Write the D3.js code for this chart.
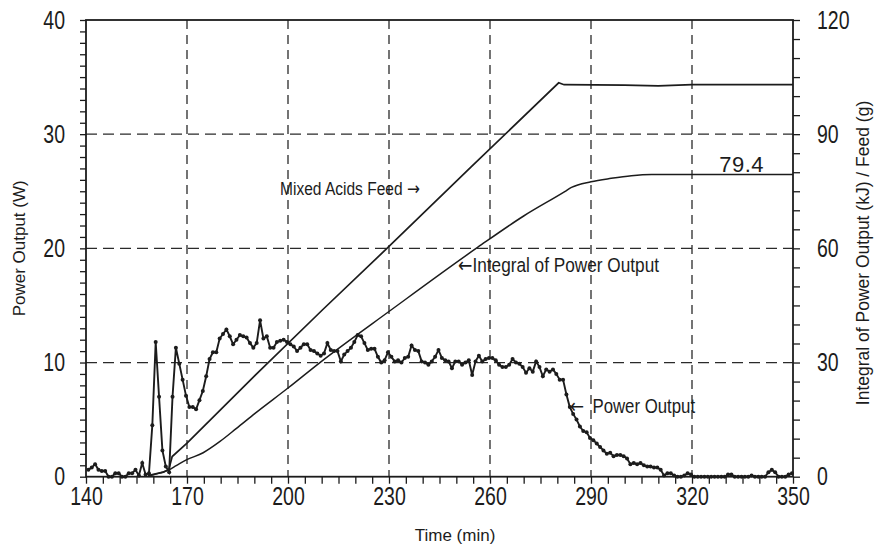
<!DOCTYPE html>
<html>
<head>
<meta charset="utf-8">
<script src="https://cdn.jsdelivr.net/npm/d3@7"></script>
<style>
  html, body { margin: 0; padding: 0; background: #fff; }
  svg { display: block; }
  .tick-label, .note, .title { font-family: 'Liberation Sans', Arial, sans-serif; fill: #1c1c1c; }
  .arrow { font-family: 'DejaVu Sans', sans-serif; }
</style>
</head>
<body>
<svg id="chart" width="875" height="546"></svg>
<script>
// Power output, sampled once a minute starting at 140.7 min (W)
const powerStart = 140.7;
const powerStep = 1;
const powerValues = [
  0.6, 0.8, 1.1, 0.6, 0.5, 0.5, 0.0, 0.0, 0.3, 0.3,
  0.0, 0.0, 0.3, 0.3, 0.6, 0.1, 1.2, 0.2, 0.3, 4.5,
  11.8, 7.0, 2.3, 0.9, 0.4, 7.0, 11.3, 9.9, 8.5, 7.1,
  6.1, 6.1, 5.9, 6.7, 7.5, 8.8, 10.3, 10.9, 10.9, 12.1,
  12.5, 12.9, 12.3, 11.6, 12.0, 12.4, 12.3, 12.2, 11.7, 11.3,
  11.7, 13.7, 12.1, 12.3, 11.3, 11.3, 11.8, 11.9, 12.0, 11.8,
  11.6, 11.4, 11.0, 11.3, 11.6, 11.6, 11.1, 11.0, 10.8, 10.6,
  10.8, 11.7, 11.1, 11.0, 11.0, 10.1, 10.7, 11.0, 11.3, 11.8,
  12.4, 12.3, 11.7, 11.1, 11.2, 11.2, 10.5, 10.0, 10.2, 10.9,
  10.5, 10.1, 10.2, 10.0, 10.4, 10.5, 11.5, 11.1, 11.0, 10.1,
  10.0, 9.8, 10.1, 10.5, 11.1, 10.4, 10.2, 10.1, 9.5, 10.1,
  10.1, 9.8, 10.0, 10.2, 8.9, 10.1, 10.6, 10.1, 10.3, 10.4,
  10.4, 10.2, 9.8, 9.6, 9.6, 9.8, 10.3, 10.0, 9.9, 9.6,
  9.1, 9.5, 9.2, 10.1, 9.6, 8.8, 9.4, 9.2, 9.4, 9.0,
  8.5, 8.5, 7.2, 6.1, 5.5, 5.0, 4.4, 4.0, 3.9, 3.4,
  3.2, 2.9, 2.6, 2.3, 2.0, 2.1, 1.8, 1.9, 1.9, 1.8,
  1.6, 1.1, 1.2, 1.1, 1.2, 1.0, 0.9, 0.9, 0.8, 0.8,
  0.6, 0.1, 0.3, 0.3, 0.1, 0.0, 0.0, 0.1, 0.3, 0.2,
  0.0, 0.0, 0.0, 0.0, 0.0, 0.0, 0.0, 0.0, 0.0, 0.0,
  0.2, 0.2, 0.0, 0.0, 0.0, 0.0, 0.0, 0.1, 0.0, 0.0,
  0.0, 0.0, 0.4, 0.6, 0.4, 0.0, 0.0, 0.0, 0.2, 0.3
];

// Cumulative mixed acids feed (g), right axis
const feedTimes  = [158.4, 161, 163, 164.6, 165.6, 170, 180, 190.3, 210.2, 230, 254.4, 280.4, 282, 300, 310, 320, 350];
const feedValues = [0.3, 0.8, 1.2, 1.9, 5.3, 8.8, 17.6, 26.7, 43.8, 60.5, 81.4, 103.5, 103.0, 102.9, 102.7, 103.0, 103.0];

// Integral of power output (kJ), right axis
const integralTimes  = [158.4, 160, 162, 164.6, 166.8, 169.8, 174.8, 179.7, 184.7, 190.3, 200, 209.2, 230.6, 256.4, 270, 282.2, 284.2, 290, 296, 302, 308, 314, 350];
const integralValues = [0.2, 0.5, 1.0, 1.8, 2.9, 4.4, 6.3, 9.2, 12.7, 16.7, 23.3, 29.8, 43.8, 60.3, 68.5, 74.9, 76.0, 77.5, 78.4, 79.1, 79.4, 79.4, 79.4];
const integralFinal = 79.4;

// Axis ticks
const xLabels = [140, 170, 200, 230, 260, 290, 320, 350];
const xGrid = [170, 200, 230, 260, 290, 320];
const yLeftLabels = [0, 10, 20, 30, 40];
const yGrid = [10, 20, 30];
const yRightLabels = [0, 30, 60, 90, 120];

const W = 875, H = 546;
const margin = { left: 86, top: 20, right: 82, bottom: 69.3 };
const x = d3.scaleLinear().domain([140, 350]).range([margin.left, W - margin.right]);
const yL = d3.scaleLinear().domain([0, 40]).range([H - margin.bottom, margin.top]);
const yR = d3.scaleLinear().domain([0, 120]).range([H - margin.bottom, margin.top]);

const svg = d3.select('#chart');
const ink = '#1c1c1c';

// Squeeze text horizontally around its anchor point (narrow plotter lettering)
function narrow(sel, sx) {
  sel.each(function () {
    const t = d3.select(this);
    const tx = +t.attr('x') || 0;
    const ty = +t.attr('y') || 0;
    t.attr('x', 0).attr('y', 0)
      .attr('transform', `translate(${tx},${ty}) scale(${sx},1)`);
  });
}

// Text with an arrow glyph before or after the words
function arrowNote(parent, px, py, size, before, words, after, gap) {
  const t = parent.append('text').attr('class', 'note')
    .attr('x', px).attr('y', py).style('font-size', size + 'px');
  if (before) t.append('tspan').attr('class', 'arrow').text(before);
  t.append('tspan').attr('dx', gap || 0).text(words);
  if (after) t.append('tspan').attr('class', 'arrow').text(after);
  return t;
}

// Dashed grid
const grid = svg.append('g').attr('stroke', '#2a2a2a').attr('stroke-width', 1.3).attr('fill', 'none');
grid.selectAll('.vg').data(xGrid).join('line')
  .attr('x1', d => x(d)).attr('x2', d => x(d))
  .attr('y1', yL(40)).attr('y2', yL(0))
  .attr('stroke-dasharray', '9,6');
grid.selectAll('.hg').data(yGrid).join('line')
  .attr('x1', x(140)).attr('x2', x(350))
  .attr('y1', d => yL(d)).attr('y2', d => yL(d))
  .attr('stroke-dasharray', '11,6');

// Axes
function styleAxis(g) {
  g.select('.domain').remove();
  g.selectAll('.tick line').attr('stroke', ink).attr('stroke-width', 1.3);
  g.selectAll('.tick text').attr('class', 'tick-label').attr('fill', ink).style('font-size', '25px')
    .call(narrow, 0.78);
}

svg.append('g')
  .attr('transform', `translate(0,${yL(0)})`)
  .call(d3.axisBottom(x)
    .tickValues(d3.range(140, 351, 5))
    .tickSize(7).tickPadding(4)
    .tickFormat(d => xLabels.includes(d) ? d : ''))
  .call(styleAxis);

svg.append('g')
  .attr('transform', `translate(${x(140)},0)`)
  .call(d3.axisLeft(yL)
    .tickValues(d3.range(0, 41, 1))
    .tickSize(6).tickPadding(15)
    .tickFormat(d => yLeftLabels.includes(d) ? d : ''))
  .call(styleAxis);

svg.append('g')
  .attr('transform', `translate(${x(350)},0)`)
  .call(d3.axisRight(yR)
    .tickValues(d3.range(0, 121, 5))
    .tickSize(7).tickPadding(17)
    .tickFormat(d => yRightLabels.includes(d) ? d : ''))
  .call(styleAxis);

// Frame
svg.append('rect')
  .attr('x', x(140)).attr('y', yL(40))
  .attr('width', x(350) - x(140)).attr('height', yL(0) - yL(40))
  .attr('fill', 'none').attr('stroke', ink).attr('stroke-width', 1.8);

// Feed and integral curves (right axis)
svg.append('path')
  .datum(d3.zip(feedTimes, feedValues))
  .attr('d', d3.line().x(d => x(d[0])).y(d => yR(d[1])))
  .attr('fill', 'none').attr('stroke', ink).attr('stroke-width', 1.7);
svg.append('path')
  .datum(d3.zip(integralTimes, integralValues))
  .attr('d', d3.line().x(d => x(d[0])).y(d => yR(d[1])).curve(d3.curveMonotoneX))
  .attr('fill', 'none').attr('stroke', ink).attr('stroke-width', 1.5);

// Power output (left axis)
const power = powerValues.map((v, i) => [powerStart + i * powerStep, v]);
svg.append('path')
  .datum(power)
  .attr('d', d3.line().x(d => x(d[0])).y(d => yL(d[1])))
  .attr('fill', 'none').attr('stroke', ink).attr('stroke-width', 1.9);
svg.append('g').selectAll('circle').data(power).join('circle')
  .attr('cx', d => x(d[0])).attr('cy', d => yL(d[1])).attr('r', 2)
  .attr('fill', ink);

// Curve annotations
const notes = svg.append('g');
arrowNote(notes, 280, 195, 18.5, null, 'Mixed Acids Feed ', '\u2192');
arrowNote(notes, 458, 272, 20.5, '\u2190', 'Integral of Power Output', null);
arrowNote(notes, 570, 413, 20, '\u2190', 'Power Output', null, 10);
notes.selectAll('text').call(narrow, 0.84);

svg.append('text').attr('class', 'note')
  .attr('x', 764).attr('y', yR(integralFinal) - 3)
  .attr('text-anchor', 'end')
  .style('font-size', '22px').style('letter-spacing', '0.5px')
  .text(integralFinal.toFixed(1));

// Axis titles
svg.append('text').attr('class', 'title')
  .attr('x', 455).attr('y', 541).attr('text-anchor', 'middle')
  .style('font-size', '17px').text('Time (min)');
svg.append('text').attr('class', 'title')
  .attr('transform', `translate(25,${(yL(0) + yL(40)) / 2}) rotate(-90)`)
  .attr('text-anchor', 'middle')
  .style('font-size', '17px').text('Power Output (W)');
svg.append('text').attr('class', 'title')
  .attr('transform', `translate(869,253) rotate(-90)`)
  .attr('text-anchor', 'middle')
  .style('font-size', '17.5px').text('Integral of Power Output (kJ) / Feed (g)');
</script>
</body>
</html>
